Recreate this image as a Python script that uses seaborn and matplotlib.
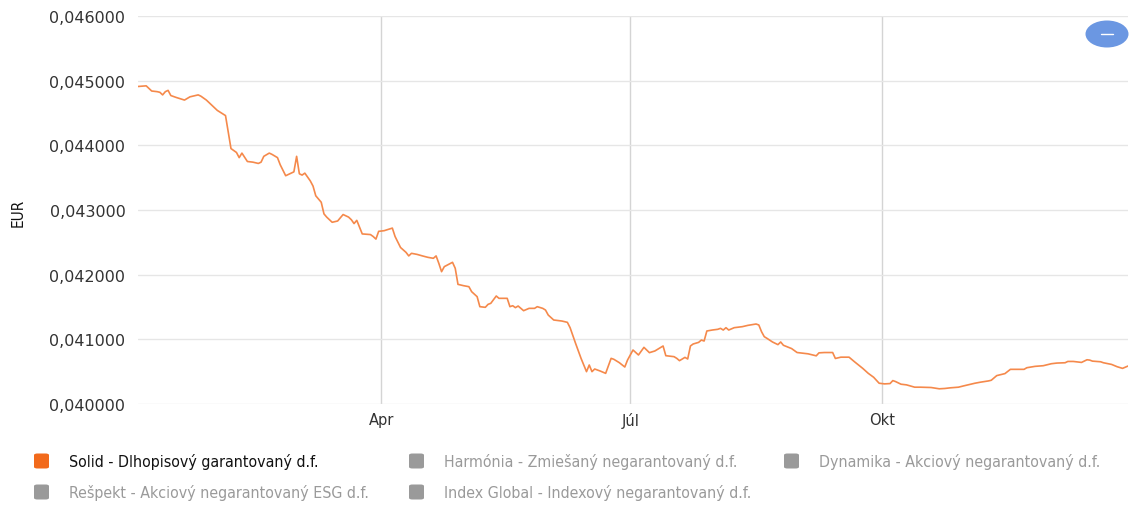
import matplotlib
matplotlib.use("Agg")
import matplotlib.pyplot as plt
import matplotlib.dates as mdates
from matplotlib.ticker import FuncFormatter
from matplotlib.patches import Ellipse, FancyBboxPatch
from matplotlib.lines import Line2D
import pandas as pd
import seaborn as sns

# ---------------- data ----------------
dates = [
    "2023-01-02", "2023-01-05", "2023-01-07", "2023-01-09", "2023-01-10", "2023-01-11",
    "2023-01-12", "2023-01-13", "2023-01-14", "2023-01-16", "2023-01-19", "2023-01-21",
    "2023-01-24", "2023-01-25", "2023-01-27", "2023-01-29", "2023-01-31", "2023-02-03",
    "2023-02-05", "2023-02-07", "2023-02-08", "2023-02-09", "2023-02-11", "2023-02-13",
    "2023-02-15", "2023-02-16", "2023-02-17", "2023-02-19", "2023-02-20", "2023-02-22",
    "2023-02-23", "2023-02-25", "2023-02-27", "2023-02-28", "2023-03-01", "2023-03-02",
    "2023-03-03", "2023-03-04", "2023-03-06", "2023-03-07", "2023-03-08", "2023-03-10",
    "2023-03-11", "2023-03-12", "2023-03-14", "2023-03-16", "2023-03-18", "2023-03-20",
    "2023-03-21", "2023-03-22", "2023-03-23", "2023-03-25", "2023-03-28", "2023-03-29",
    "2023-03-30", "2023-03-31", "2023-04-02", "2023-04-05", "2023-04-06", "2023-04-08",
    "2023-04-10", "2023-04-11", "2023-04-12", "2023-04-14", "2023-04-16", "2023-04-18",
    "2023-04-20", "2023-04-21", "2023-04-22", "2023-04-23", "2023-04-24", "2023-04-27",
    "2023-04-28", "2023-04-29", "2023-05-01", "2023-05-03", "2023-05-04", "2023-05-06",
    "2023-05-07", "2023-05-09", "2023-05-10", "2023-05-11", "2023-05-13", "2023-05-14",
    "2023-05-17", "2023-05-18", "2023-05-19", "2023-05-20", "2023-05-21", "2023-05-23",
    "2023-05-25", "2023-05-27", "2023-05-28", "2023-05-30", "2023-05-31", "2023-06-01",
    "2023-06-03", "2023-06-06", "2023-06-08", "2023-06-09", "2023-06-11", "2023-06-13",
    "2023-06-15", "2023-06-16", "2023-06-17", "2023-06-18", "2023-06-20", "2023-06-22",
    "2023-06-24", "2023-06-25", "2023-06-27", "2023-06-29", "2023-06-30", "2023-07-02",
    "2023-07-04", "2023-07-06", "2023-07-08", "2023-07-10", "2023-07-13", "2023-07-14",
    "2023-07-17", "2023-07-18", "2023-07-19", "2023-07-21", "2023-07-22", "2023-07-23",
    "2023-07-24", "2023-07-26", "2023-07-27", "2023-07-28", "2023-07-29", "2023-07-31",
    "2023-08-02", "2023-08-03", "2023-08-04", "2023-08-05", "2023-08-06", "2023-08-08",
    "2023-08-11", "2023-08-13", "2023-08-16", "2023-08-17", "2023-08-18", "2023-08-19",
    "2023-08-20", "2023-08-22", "2023-08-24", "2023-08-25", "2023-08-26", "2023-08-29",
    "2023-08-31", "2023-09-04", "2023-09-07", "2023-09-08", "2023-09-10", "2023-09-13",
    "2023-09-14", "2023-09-16", "2023-09-19", "2023-09-21", "2023-09-24", "2023-09-26",
    "2023-09-28", "2023-09-30", "2023-10-02", "2023-10-04", "2023-10-05", "2023-10-06",
    "2023-10-08", "2023-10-10", "2023-10-13", "2023-10-15", "2023-10-19", "2023-10-22",
    "2023-10-24", "2023-10-26", "2023-10-29", "2023-10-31", "2023-11-04", "2023-11-06",
    "2023-11-09", "2023-11-10", "2023-11-12", "2023-11-15", "2023-11-17", "2023-11-18",
    "2023-11-22", "2023-11-23", "2023-11-26", "2023-11-29", "2023-12-02", "2023-12-04",
    "2023-12-07", "2023-12-08", "2023-12-10", "2023-12-11", "2023-12-13", "2023-12-15",
    "2023-12-16", "2023-12-17", "2023-12-20", "2023-12-21", "2023-12-24", "2023-12-26",
    "2023-12-28", "2023-12-30",
]
solid_values = [
    0.04491, 0.04492, 0.04484, 0.04483, 0.04482, 0.04478,
    0.04483, 0.04485, 0.04477, 0.04474, 0.04470, 0.04475,
    0.04478, 0.04476, 0.04470, 0.04462, 0.04454, 0.04446,
    0.04395, 0.04389, 0.04381, 0.04388, 0.04375, 0.04374,
    0.04372, 0.04374, 0.04383, 0.04388, 0.04386, 0.04381,
    0.04370, 0.04353, 0.04357, 0.04359, 0.04383, 0.04356,
    0.04354, 0.04357, 0.04345, 0.04337, 0.04322, 0.04312,
    0.04294, 0.04289, 0.04281, 0.04283, 0.04293, 0.04289,
    0.04285, 0.04279, 0.04284, 0.04263, 0.04262, 0.04259,
    0.04255, 0.04267, 0.04268, 0.04272, 0.04259, 0.04242,
    0.042345, 0.04229, 0.04233, 0.042314, 0.04229, 0.042268,
    0.042253, 0.04229, 0.042175, 0.042046, 0.042124, 0.042191,
    0.042098, 0.04185, 0.04183, 0.041814, 0.041737, 0.04166,
    0.041505, 0.041495, 0.041541, 0.041557, 0.04167, 0.041634,
    0.041634, 0.041505, 0.04152, 0.04149, 0.041515, 0.041443,
    0.041479, 0.041479, 0.041505, 0.041479, 0.041453, 0.041376,
    0.041299, 0.041283, 0.041263, 0.04118, 0.040938, 0.040706,
    0.0405, 0.040603, 0.0405, 0.040541, 0.04051, 0.040474,
    0.040706, 0.040691, 0.040639, 0.040572, 0.04068, 0.040835,
    0.040758, 0.040876, 0.040794, 0.04082, 0.040897, 0.040747,
    0.040732, 0.040706, 0.04067, 0.040721, 0.040696, 0.040897,
    0.040928, 0.040953, 0.040989, 0.040974, 0.041129, 0.041144,
    0.041155, 0.04117, 0.041144, 0.04118, 0.041144, 0.04118,
    0.041196, 0.041216, 0.041237, 0.041222, 0.041118, 0.041041,
    0.041015, 0.040959, 0.040918, 0.040959, 0.040908, 0.040857,
    0.040796, 0.040776, 0.040745, 0.040791, 0.040796, 0.040796,
    0.040704, 0.040724, 0.040724, 0.040653, 0.040551, 0.040475,
    0.040413, 0.040321, 0.040311, 0.040316, 0.040362, 0.040347,
    0.040306, 0.040296, 0.04026, 0.04026, 0.040255, 0.040235,
    0.04024, 0.04025, 0.04026, 0.040281, 0.040321, 0.040337,
    0.040357, 0.040367, 0.040439, 0.04047, 0.040536, 0.040536,
    0.040536, 0.040561, 0.040582, 0.040592, 0.040623, 0.040633,
    0.040638, 0.040658, 0.040658, 0.040653, 0.040643, 0.040684,
    0.040679, 0.040663, 0.040653, 0.040638, 0.040612, 0.040577,
    0.040551, 0.040587,
]
y_ticks = [0.040, 0.041, 0.042, 0.043, 0.044, 0.045, 0.046]
month_labels = {4: "Apr", 7: "Júl", 10: "Okt"}
unit_label = "EUR"
legend_names = [
    "Solid - Dlhopisový garantovaný d.f.",
    "Harmónia - Zmiešaný negarantovaný d.f.",
    "Dynamika - Akciový negarantovaný d.f.",
    "Rešpekt - Akciový negarantovaný ESG d.f.",
    "Index Global - Indexový negarantovaný d.f.",
]
legend_active = [True, False, False, False, False]

# ---------------- style ----------------
sns.set_theme(style="white")
plt.rcParams["font.family"] = ["DejaVu Sans"]

LINE_COLOR = "#f5894b"
ACTIVE_SWATCH = "#f26a1b"
INACTIVE = "#9a9a9a"

W, H = 1130, 506
fig = plt.figure(figsize=(W / 100, H / 100), dpi=100)
ax = fig.add_axes([138 / W, 1 - 405 / H, 990 / W, 388 / H])

df = pd.DataFrame({"date": pd.to_datetime(dates), "value": solid_values})
sns.lineplot(data=df, x="date", y="value", ax=ax, color=LINE_COLOR,
             linewidth=1.2, legend=False)

ax.set_xlim(df["date"].iloc[0], df["date"].iloc[-1])
ax.set_ylim(y_ticks[0], y_ticks[-1])
ax.set_yticks(y_ticks)
ax.yaxis.set_major_formatter(FuncFormatter(lambda v, _: f"{v:.6f}".replace(".", ",")))
ax.xaxis.set_major_locator(mdates.MonthLocator(bymonth=list(month_labels.keys())))
ax.xaxis.set_major_formatter(FuncFormatter(
    lambda v, _: month_labels.get(mdates.num2date(v).month, "")))

ax.set_xlabel("")
ax.set_ylabel("")
for s in ax.spines.values():
    s.set_visible(False)
ax.grid(axis="y", color="#e6e6e6", linewidth=1)
ax.grid(axis="x", color="#d4d4d4", linewidth=1)
ax.set_axisbelow(True)
ax.tick_params(axis="y", length=0, pad=9, labelsize=11.5, labelcolor="#333333")
ax.tick_params(axis="x", length=0, pad=6, labelsize=10.5, labelcolor="#333333")

fig.text(18 / W, 1 - 213 / H, unit_label, rotation=90, ha="center", va="center",
         fontsize=11, fontstretch="condensed", color="#111111")

# top-right round button
fig.patches.append(Ellipse((1107 / W, 1 - 35 / H), 43 / W, 27 / H,
                           transform=fig.transFigure, facecolor="#6b97e2",
                           edgecolor="none", zorder=5))
fig.lines.append(Line2D([1101 / W, 1113 / W], [1 - 35 / H, 1 - 35 / H],
                        transform=fig.transFigure, color="white", linewidth=1.0,
                        zorder=6))

# legend
cols_x = [34, 409, 784]
rows_y = [462, 493]
for i, (name, active) in enumerate(zip(legend_names, legend_active)):
    cx = cols_x[i % 3]
    cy = rows_y[i // 3]
    col = ACTIVE_SWATCH if active else INACTIVE
    fig.patches.append(FancyBboxPatch((cx / W, 1 - (cy + 7.5) / H), 15 / W, 15 / H,
                                      boxstyle="round,pad=0,rounding_size=0.003",
                                      transform=fig.transFigure, facecolor=col,
                                      edgecolor="none"))
    fig.text((cx + 35) / W, 1 - cy / H, name, ha="left", va="center",
             fontsize=11.4, fontstretch="condensed",
             color="#111111" if active else INACTIVE)

fig.savefig("out.png", dpi=100)
